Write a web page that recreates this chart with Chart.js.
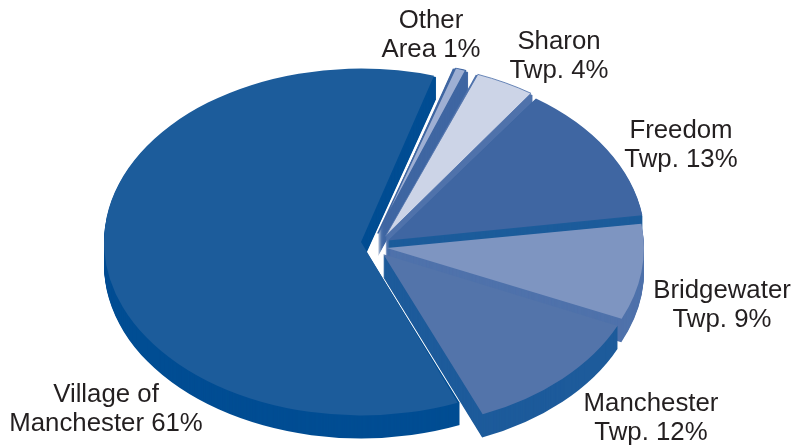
<!DOCTYPE html>
<html>
<head>
<meta charset="utf-8">
<style>
  html, body { margin: 0; padding: 0; background: #fff; }
  canvas { display: block; }
</style>
<script src="https://cdn.jsdelivr.net/npm/chart.js@4/dist/chart.umd.min.js"></script>
</head>
<body>
<canvas id="myChart" width="792" height="446"></canvas>
<script>
// values
const categories = ['Village of Manchester', 'Other Area', 'Sharon Twp.', 'Freedom Twp.', 'Bridgewater Twp.', 'Manchester Twp.'];
const shares = [61, 1, 4, 13, 9, 12];
const explode = [14, 18, 18, 13, 11, 12];
// the slices were not pulled straight out in the original, small extra nudge per slice
const nudgeX = [0, -3, 2, 2, 1, 0];
const nudgeY = [-3.5, 0, 2, 0, 2, 3.5];

const topColors = ['#1c5c9b', '#9eafd3', '#ccd4e7', '#3f66a2', '#7e95c1', '#5374aa'];
const sideColors = ['#004d93', '#3f66a2', '#4f72ab', '#1c5c9b', '#4f72ab', '#1d5b9b'];
const edgeColors = ['#1c5c9b', '#3f66a2', '#4f72ab', '#3f66a2', '#7e95c1', '#5374aa'];
const edgeWidths = [0, 1.5, 1, 0, 0, 0];

const labelLines = [
  ['Village of', 'Manchester 61%'],
  ['Other', 'Area 1%'],
  ['Sharon', 'Twp. 4%'],
  ['Freedom', 'Twp. 13%'],
  ['Bridgewater', 'Twp. 9%'],
  ['Manchester', 'Twp. 12%']
];
const labelCenters = [[106, 395], [431, 21], [559, 42], [681, 131], [722, 291], [651, 404]];
const lineGap = 28.5;

// look of the tilted pie
const pieRadius = 257, pieX = 375, pieY = 245, tilt = 0.675, depth = 23;
const drawOrder = [0, 1, 2, 3, 4, 5];

// Arc.draw moves a slice by offset/4 but also grows its radius by
// offset/4 * (1 - sin(circumference)), that growth has to come back off
const total = shares.reduce((s, v) => s + v, 0);
const growth = explode.map((v, i) => {
  const circ = shares[i] / total * 2 * Math.PI;
  return v * (1 - Math.sin(Math.min(Math.PI, circ)));
});

const tiltPlugin = {
  id: 'tilt',
  afterDatasetUpdate(chart, args) {
    args.meta.data.forEach((a, i) => {
      a.outerRadius = pieRadius - growth[i];
      a.x += nudgeX[i];
      a.y += nudgeY[i] / tilt;
    });
  },
  beforeDatasetDraw(chart, args) {
    const ctx = chart.ctx;
    const arcs = args.meta.data;
    ctx.save();
    ctx.translate(pieX, pieY);
    ctx.scale(1, tilt);
    ctx.translate(-chart.width / 2, -chart.height / 2);
    // side walls, stacked fills from the bottom up
    drawOrder.forEach(i => {
      const a = arcs[i];
      const mid = (a.startAngle + a.endAngle) / 2;
      const ox = a.x + Math.cos(mid) * explode[i];
      const oy = a.y + Math.sin(mid) * explode[i];
      ctx.fillStyle = sideColors[i];
      for (let d = depth; d > 0; d--) {
        ctx.beginPath();
        ctx.moveTo(ox, oy + d / tilt);
        ctx.arc(ox, oy + d / tilt, pieRadius, a.startAngle, a.endAngle);
        ctx.closePath();
        ctx.fill();
      }
    });
  },
  afterDatasetDraw(chart) {
    chart.ctx.restore();
  },
  afterDraw(chart) {
    const ctx = chart.ctx;
    ctx.save();
    ctx.font = '25.8px "Liberation Sans", Arial, sans-serif';
    ctx.fillStyle = '#231f20';
    ctx.textAlign = 'center';
    ctx.textBaseline = 'middle';
    labelLines.forEach((lines, i) => {
      lines.forEach((line, j) => {
        ctx.fillText(line, labelCenters[i][0], labelCenters[i][1] + j * lineGap);
      });
    });
    ctx.restore();
  }
};

const myChart = new Chart(document.getElementById('myChart'), {
  type: 'pie',
  data: {
    labels: categories,
    datasets: [{
      data: shares,
      backgroundColor: topColors,
      borderColor: edgeColors,
      borderWidth: edgeWidths,
      offset: explode.map(v => v * 4),
      clip: false
    }]
  },
  options: {
    responsive: false,
    animation: false,
    rotation: 157.4,
    radius: pieRadius,
    plugins: {
      legend: { display: false },
      tooltip: { enabled: false }
    }
  },
  plugins: [tiltPlugin]
});
</script>
</body>
</html>
